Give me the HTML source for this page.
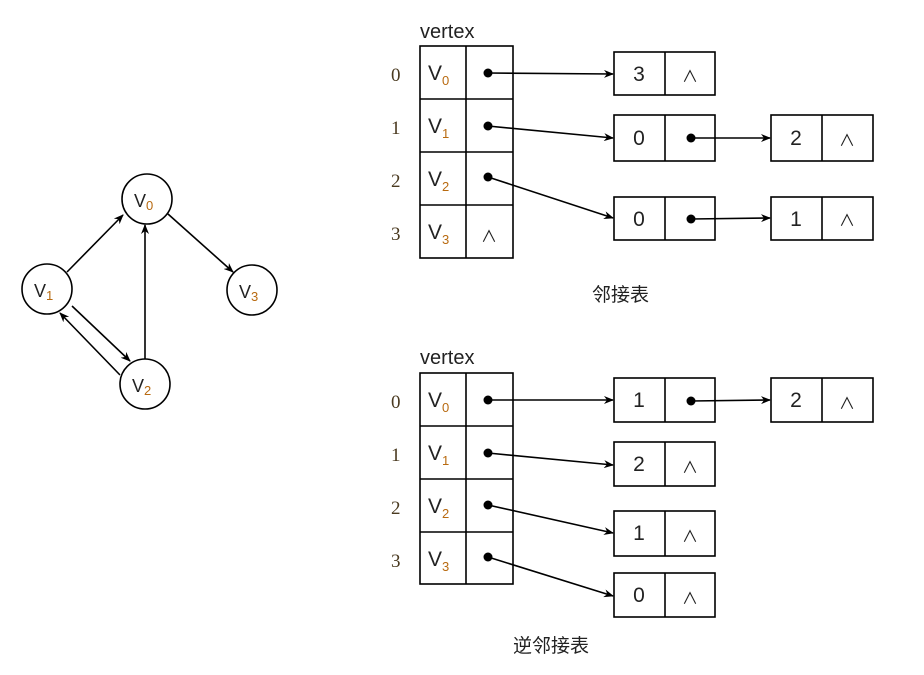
<!DOCTYPE html>
<html><head><meta charset="utf-8"><style>
html,body{margin:0;padding:0;background:#fff}
svg{display:block}
text{font-family:"Liberation Sans","Noto Sans CJK SC",sans-serif;fill:#222}
.idx{font-family:"Liberation Serif",serif;font-size:19px;fill:#4a3a20}
.v{font-size:21px}
.sub{font-size:13px;fill:#b86a10}
.n{font-size:21px;text-anchor:middle}
.w{font-size:16px;text-anchor:middle}
</style></head><body>
<svg width="924" height="675" viewBox="0 0 924 675" xmlns="http://www.w3.org/2000/svg">
<defs><marker id="a" markerWidth="10" markerHeight="8" refX="9" refY="4" orient="auto" markerUnits="userSpaceOnUse"><path d="M0,0 L10,4 L0,8 L3,4 z" fill="#000"/></marker></defs>
<g stroke="#000" stroke-width="1.6" fill="none">
<!-- graph -->
<circle cx="147" cy="199" r="25"/><circle cx="47" cy="289" r="25"/><circle cx="252" cy="290" r="25"/><circle cx="145" cy="384" r="25"/>
<line x1="67" y1="272" x2="123" y2="215" marker-end="url(#a)"/>
<line x1="145" y1="359" x2="145" y2="225" marker-end="url(#a)"/>
<line x1="168" y1="214" x2="233" y2="272" marker-end="url(#a)"/>
<line x1="72" y1="306" x2="130" y2="361" marker-end="url(#a)"/>
<line x1="120" y1="375" x2="60" y2="313" marker-end="url(#a)"/>
<!-- top table -->
<rect x="420" y="46" width="93" height="212"/>
<line x1="466" y1="46" x2="466" y2="258"/>
<line x1="420" y1="99" x2="513" y2="99"/><line x1="420" y1="152" x2="513" y2="152"/><line x1="420" y1="205" x2="513" y2="205"/>
<rect x="614" y="52" width="101" height="43"/><line x1="665" y1="52" x2="665" y2="95"/>
<rect x="614" y="115" width="101" height="46"/><line x1="665" y1="115" x2="665" y2="161"/>
<rect x="771" y="115" width="102" height="46"/><line x1="822" y1="115" x2="822" y2="161"/>
<rect x="614" y="197" width="101" height="43"/><line x1="665" y1="197" x2="665" y2="240"/>
<rect x="771" y="197" width="102" height="43"/><line x1="822" y1="197" x2="822" y2="240"/>
<line x1="488" y1="73" x2="613" y2="74" marker-end="url(#a)"/>
<line x1="488" y1="126" x2="613" y2="138" marker-end="url(#a)"/>
<line x1="488" y1="177" x2="613" y2="218" marker-end="url(#a)"/>
<line x1="691" y1="138" x2="770" y2="138" marker-end="url(#a)"/>
<line x1="691" y1="219" x2="770" y2="218" marker-end="url(#a)"/>
<!-- bottom table -->
<rect x="420" y="373" width="93" height="211"/>
<line x1="466" y1="373" x2="466" y2="584"/>
<line x1="420" y1="426" x2="513" y2="426"/><line x1="420" y1="479" x2="513" y2="479"/><line x1="420" y1="532" x2="513" y2="532"/>
<rect x="614" y="378" width="101" height="44"/><line x1="665" y1="378" x2="665" y2="422"/>
<rect x="771" y="378" width="102" height="44"/><line x1="822" y1="378" x2="822" y2="422"/>
<rect x="614" y="442" width="101" height="44"/><line x1="665" y1="442" x2="665" y2="486"/>
<rect x="614" y="511" width="101" height="45"/><line x1="665" y1="511" x2="665" y2="556"/>
<rect x="614" y="573" width="101" height="44"/><line x1="665" y1="573" x2="665" y2="617"/>
<line x1="488" y1="400" x2="613" y2="400" marker-end="url(#a)"/>
<line x1="691" y1="401" x2="770" y2="400" marker-end="url(#a)"/>
<line x1="488" y1="453" x2="613" y2="465" marker-end="url(#a)"/>
<line x1="488" y1="505" x2="613" y2="533" marker-end="url(#a)"/>
<line x1="488" y1="557" x2="613" y2="596" marker-end="url(#a)"/>
</g>
<g fill="#000">
<circle cx="488" cy="73" r="4.5"/><circle cx="488" cy="126" r="4.5"/><circle cx="488" cy="177" r="4.5"/>
<circle cx="691" cy="138" r="4.5"/><circle cx="691" cy="219" r="4.5"/>
<circle cx="488" cy="400" r="4.5"/><circle cx="488" cy="453" r="4.5"/><circle cx="488" cy="505" r="4.5"/><circle cx="488" cy="557" r="4.5"/>
<circle cx="691" cy="401" r="4.5"/>
</g>
<!-- graph labels -->
<text x="134" y="207" class="v" style="font-size:18px">V<tspan class="sub" dy="3">0</tspan></text>
<text x="34" y="297" class="v" style="font-size:18px">V<tspan class="sub" dy="3">1</tspan></text>
<text x="239" y="298" class="v" style="font-size:18px">V<tspan class="sub" dy="3">3</tspan></text>
<text x="132" y="392" class="v" style="font-size:18px">V<tspan class="sub" dy="3">2</tspan></text>
<!-- top -->
<text x="420" y="38" style="font-size:20px">vertex</text>
<text x="391" y="81" class="idx">0</text><text x="391" y="134" class="idx">1</text><text x="391" y="187" class="idx">2</text><text x="391" y="240" class="idx">3</text>
<text x="428" y="80" class="v">V<tspan class="sub" dy="5">0</tspan></text>
<text x="428" y="133" class="v">V<tspan class="sub" dy="5">1</tspan></text>
<text x="428" y="186" class="v">V<tspan class="sub" dy="5">2</tspan></text>
<text x="428" y="239" class="v">V<tspan class="sub" dy="5">3</tspan></text>
<text x="489" y="242" class="w">∧</text>
<text x="639" y="81" class="n">3</text><text x="690" y="82" class="w">∧</text>
<text x="639" y="145" class="n">0</text><text x="796" y="145" class="n">2</text><text x="847" y="146" class="w">∧</text>
<text x="639" y="226" class="n">0</text><text x="796" y="226" class="n">1</text><text x="847" y="226" class="w">∧</text>
<text x="592" y="301" style="font-size:19px">邻接表</text>
<!-- bottom -->
<text x="420" y="364" style="font-size:20px">vertex</text>
<text x="391" y="408" class="idx">0</text><text x="391" y="461" class="idx">1</text><text x="391" y="514" class="idx">2</text><text x="391" y="567" class="idx">3</text>
<text x="428" y="407" class="v">V<tspan class="sub" dy="5">0</tspan></text>
<text x="428" y="460" class="v">V<tspan class="sub" dy="5">1</tspan></text>
<text x="428" y="513" class="v">V<tspan class="sub" dy="5">2</tspan></text>
<text x="428" y="566" class="v">V<tspan class="sub" dy="5">3</tspan></text>
<text x="639" y="407" class="n">1</text><text x="796" y="407" class="n">2</text><text x="847" y="409" class="w">∧</text>
<text x="639" y="471" class="n">2</text><text x="690" y="473" class="w">∧</text>
<text x="639" y="540" class="n">1</text><text x="690" y="542" class="w">∧</text>
<text x="639" y="602" class="n">0</text><text x="690" y="604" class="w">∧</text>
<text x="513" y="652" style="font-size:19px">逆邻接表</text>
</svg>
</body></html>
